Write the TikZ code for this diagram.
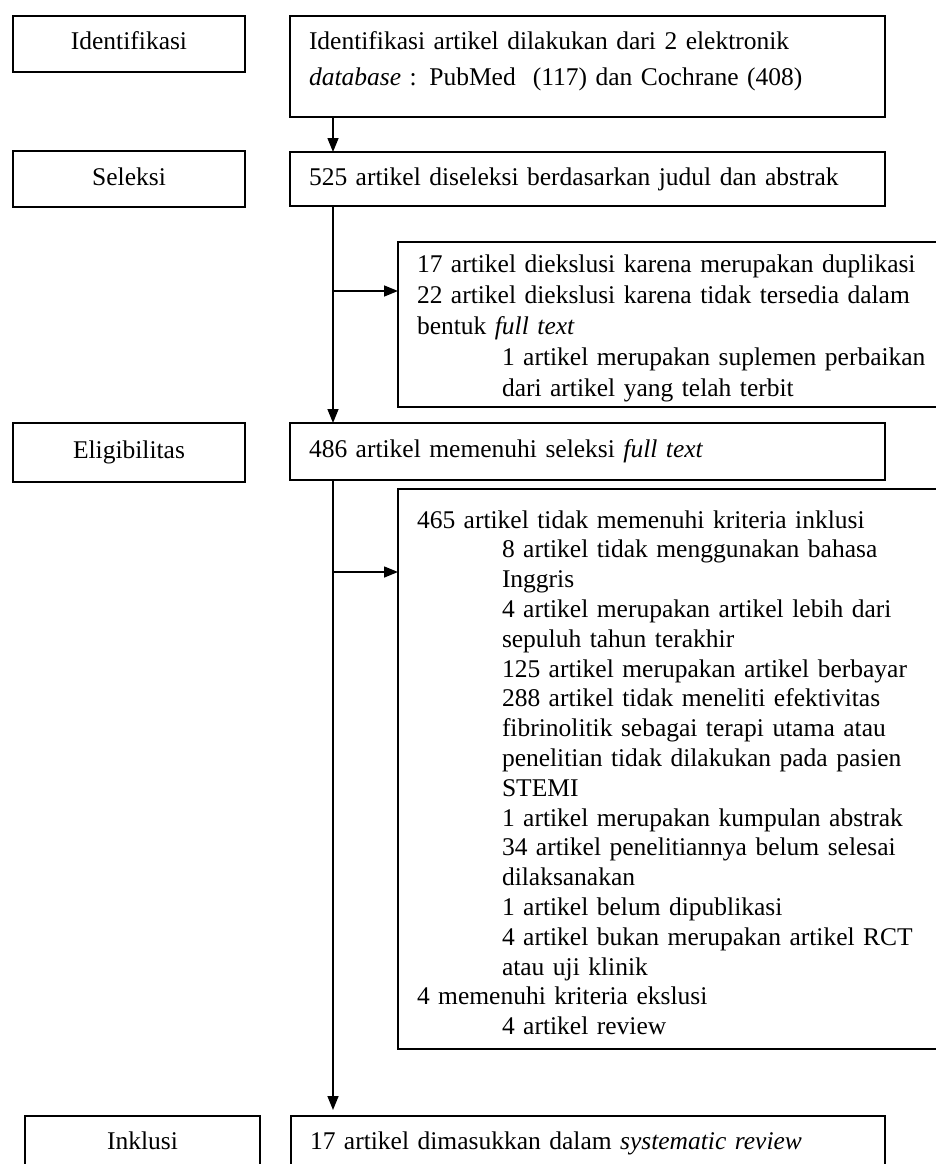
\documentclass[tikz,border=0pt]{standalone}
\usepackage{fontspec}
\setmainfont{Liberation Serif}
\usetikzlibrary{arrows.meta}
\begin{document}
\begin{tikzpicture}[x=1pt,y=-1pt,
  box/.style={draw, line width=1.6pt, anchor=north west, inner sep=0pt, outer sep=0pt,
    font=\fontsize{25.5pt}{30pt}\selectfont},
  lbl/.style={box, align=center, text height=18pt, text depth=6pt},
  rbox/.style={box, align=left, inner xsep=19pt, text width=#1},
  oneline/.style={text height=18pt, text depth=6pt},
  arr/.style={line width=1.5pt, -{Triangle[length=14pt,width=11pt]}}
]
\useasboundingbox (0,0) rectangle (936,1164);
\fill[white] (0,0) rectangle (936,1164);
\clip (0,0) rectangle (936,1164);

% left stage labels
\node[lbl, minimum width=232pt, minimum height=56pt] (nId) at (13,16) {Identifikasi};
\node[lbl, minimum width=232pt, minimum height=56pt] (nSel) at (13,151) {Seleksi};
\node[lbl, minimum width=232pt, minimum height=59pt] (nElig) at (13,423) {Eligibilitas};
\node[lbl, minimum width=235pt, minimum height=55pt] (nInk) at (25,1116) {Inklusi};

% main column
\node[rbox=557pt, minimum height=101pt, text depth=51pt] (bId) at (290,16)
  {Identifikasi artikel dilakukan dari 2 elektronik\\[6pt]
   \textit{database} : PubMed\ \ (117) dan Cochrane (408)};
\node[rbox=557pt, oneline, minimum height=54pt] (b525) at (290,152)
  {525 artikel diseleksi berdasarkan judul dan abstrak};
\node[rbox=557pt, oneline, minimum height=57pt] (b486) at (290,423)
  {486 artikel memenuhi seleksi \textit{full text}};
\node[rbox=556pt, oneline, minimum height=55pt] (b17) at (291,1116)
  {17 artikel dimasukkan dalam \textit{systematic review}};

% exclusion boxes
\node[rbox=562pt, minimum height=165pt, text height=26pt,
      font=\fontsize{25.5pt}{31pt}\selectfont] (ex1) at (398,242)
  {17 artikel diekslusi karena merupakan duplikasi\\
   22 artikel diekslusi karena tidak tersedia dalam\\
   bentuk \textit{full text}\\
   \hspace*{85pt}1 artikel merupakan suplemen perbaikan\\
   \hspace*{85pt}dari artikel yang telah terbit};
\node[rbox=562pt, minimum height=560pt, text height=25pt,
      font=\fontsize{25.5pt}{29.8pt}\selectfont] (ex2) at (398,489)
  {465 artikel tidak memenuhi kriteria inklusi\\
   \hspace*{85pt}8 artikel tidak menggunakan bahasa\\
   \hspace*{85pt}Inggris\\
   \hspace*{85pt}4 artikel merupakan artikel lebih dari\\
   \hspace*{85pt}sepuluh tahun terakhir\\
   \hspace*{85pt}125 artikel merupakan artikel berbayar\\
   \hspace*{85pt}288 artikel tidak meneliti efektivitas\\
   \hspace*{85pt}fibrinolitik sebagai terapi utama atau\\
   \hspace*{85pt}penelitian tidak dilakukan pada pasien\\
   \hspace*{85pt}STEMI\\
   \hspace*{85pt}1 artikel merupakan kumpulan abstrak\\
   \hspace*{85pt}34 artikel penelitiannya belum selesai\\
   \hspace*{85pt}dilaksanakan\\
   \hspace*{85pt}1 artikel belum dipublikasi\\
   \hspace*{85pt}4 artikel bukan merupakan artikel RCT\\
   \hspace*{85pt}atau uji klinik\\
   4 memenuhi kriteria ekslusi\\
   \hspace*{85pt}4 artikel review};

% connectors
\coordinate (tx) at (333,0);
\coordinate (j1) at (333,291);
\coordinate (j2) at (333,572);
\draw[arr] (bId.south -| tx) -- (b525.north -| tx);
\draw[arr] (b525.south -| tx) -- (b486.north -| tx);
\draw[arr] (j1) -- (j1 -| ex1.west);
\draw[arr, shorten >=6pt] (b486.south -| tx) -- (b17.north -| tx);
\draw[arr] (j2) -- (j2 -| ex2.west);
\end{tikzpicture}
\end{document}
